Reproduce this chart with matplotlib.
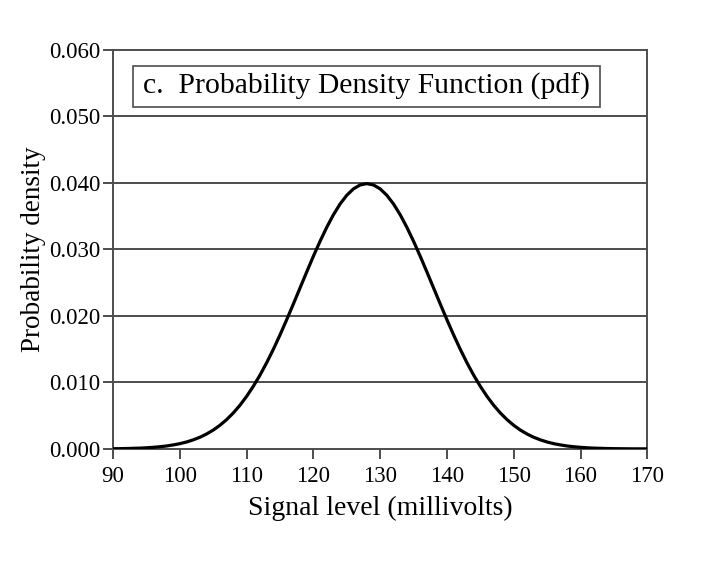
import matplotlib
matplotlib.use("Agg")
import matplotlib.pyplot as plt
from matplotlib.patches import Rectangle

plt.rcParams["font.family"] = ["Liberation Serif", "DejaVu Serif"]

# Signal level (mV) and probability density
signal_mv = list(range(90, 171))
density = [
    0.00003, 0.00004, 0.00006, 0.00009, 0.00012, 0.00017, 0.00024, 0.00033, 0.00044, 0.00060,
    0.00079, 0.00104, 0.00136, 0.00175, 0.00224, 0.00283, 0.00355, 0.00440, 0.00540, 0.00656,
    0.00790, 0.00941, 0.01109, 0.01295, 0.01497, 0.01714, 0.01942, 0.02179, 0.02420, 0.02661,
    0.02897, 0.03122, 0.03332, 0.03521, 0.03683, 0.03814, 0.03910, 0.03969, 0.03989,
    0.03969, 0.03910, 0.03814, 0.03683, 0.03521, 0.03332, 0.03122, 0.02897, 0.02661, 0.02420,
    0.02179, 0.01942, 0.01714, 0.01497, 0.01295, 0.01109, 0.00941, 0.00790, 0.00656, 0.00540,
    0.00440, 0.00355, 0.00283, 0.00224, 0.00175, 0.00136, 0.00104, 0.00079, 0.00060, 0.00044,
    0.00033, 0.00024, 0.00017, 0.00012, 0.00009, 0.00006, 0.00004, 0.00003, 0.00002, 0.00001,
    0.00001, 0.00001,
]
x_ticks = [90, 100, 110, 120, 130, 140, 150, 160, 170]
y_ticks = [0.000, 0.010, 0.020, 0.030, 0.040, 0.050, 0.060]

grey = "#4d4d4d"

fig = plt.figure(figsize=(7.2, 5.8), dpi=100)
ax = fig.add_axes([0.157, 0.226, 0.742, 0.688])

for y in y_ticks[1:-1]:
    ax.axhline(y, color=grey, linewidth=1.4, zorder=1)

ax.plot(signal_mv, density, color="black", linewidth=2.3, zorder=3)

ax.set_xlim(90, 170)
ax.set_ylim(0, 0.060)
ax.set_xticks(x_ticks)
ax.set_yticks(y_ticks)
ax.set_yticklabels([f"{v:.3f}" for v in y_ticks])
ax.tick_params(direction="out", length=7, width=1.4, color=grey, labelsize=16.5)
ax.tick_params(axis="x", pad=5)
ax.tick_params(axis="y", pad=2)
for s in ax.spines.values():
    s.set_color(grey)
    s.set_linewidth(1.4)

ax.set_xlabel("Signal level (millivolts)", fontsize=20, labelpad=7)
ax.set_ylabel("Probability density", fontsize=19.5, labelpad=2)

ax.add_patch(Rectangle((0.0375, 0.857), 0.8745, 0.103, transform=ax.transAxes,
                       facecolor="white", edgecolor=grey, linewidth=1.2, zorder=4))
ax.text(0.056, 0.908, "c.  Probability Density Function (pdf)", transform=ax.transAxes,
        fontsize=21.3, va="center", ha="left", zorder=5)

fig.savefig("out.png", dpi=100)
